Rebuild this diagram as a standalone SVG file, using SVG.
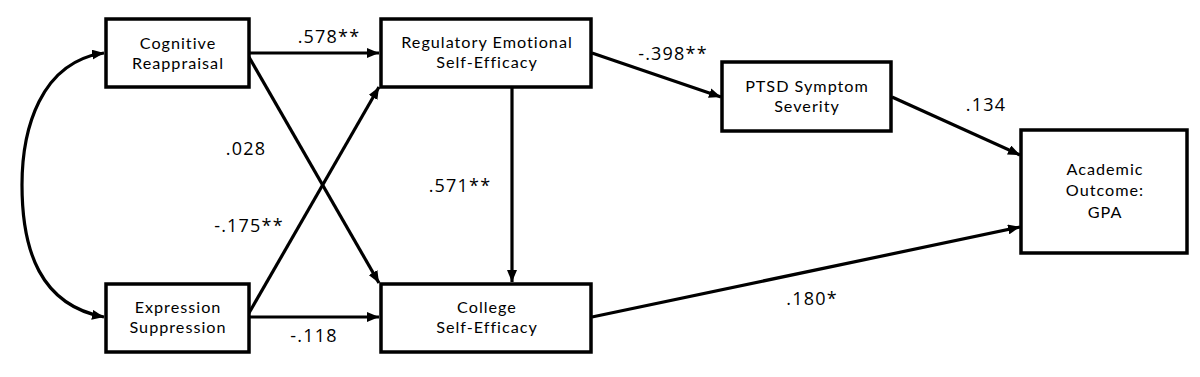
<svg xmlns="http://www.w3.org/2000/svg" width="1200" height="377" viewBox="0 0 1200 377">
<style>
.box{fill:#fff;stroke:#000;stroke-width:3.5}
.t{font-family:Lato,"Open Sans","Liberation Sans",sans-serif;font-size:16.2px;letter-spacing:1px;fill:#000;text-anchor:middle}
.lbl{font-family:"Open Sans","Liberation Sans",sans-serif;font-size:18px;letter-spacing:1.2px;fill:#000;text-anchor:middle}
.c{fill:none;stroke:#000;stroke-width:3.2}
</style>
<defs>
<marker id="ah" viewBox="0 0 12 10" refX="12" refY="5" markerWidth="12" markerHeight="10" markerUnits="userSpaceOnUse" orient="auto-start-reverse">
<path d="M0,0 L12,5 L0,10 Z" fill="#000"/>
</marker>
</defs>
<rect width="1200" height="377" fill="#fff"/>
<g id="connectors">
<path class="c" d="M249,53 L379,53" marker-end="url(#ah)"/>
<path class="c" d="M249,57 L379,283" marker-end="url(#ah)"/>
<path class="c" d="M249,313 L379,87" marker-end="url(#ah)"/>
<path class="c" d="M249,317 L379,317" marker-end="url(#ah)"/>
<path class="c" d="M512,87 L512,282" marker-end="url(#ah)"/>
<path class="c" d="M592,53 L721,97" marker-end="url(#ah)"/>
<path class="c" d="M892,97 L1020,155" marker-end="url(#ah)"/>
<path class="c" d="M592,317 L1020,227" marker-end="url(#ah)"/>
<path class="c" d="M104,53 C40,62 22,130 22,185 C22,250 40,305 104,317" marker-start="url(#ah)" marker-end="url(#ah)"/>
</g>
<g id="labels">
<text class="lbl" x="329" y="43">.578**</text>
<text class="lbl" x="246" y="155">.028</text>
<text class="lbl" x="249" y="232">-.175**</text>
<text class="lbl" x="314" y="342">-.118</text>
<text class="lbl" x="460" y="192">.571**</text>
<text class="lbl" x="673" y="60">-.398**</text>
<text class="lbl" x="986" y="111">.134</text>
<text class="lbl" x="812" y="305">.180*</text>
</g>
<g id="cognitive-reappraisal">
<rect class="box" x="106" y="19" width="143" height="68"/>
<text class="t" x="178" y="49">Cognitive</text>
<text class="t" x="178" y="69">Reappraisal</text>
</g>
<g id="expression-suppression">
<rect class="box" x="106" y="284" width="143" height="68"/>
<text class="t" x="178" y="313">Expression</text>
<text class="t" x="178" y="333">Suppression</text>
</g>
<g id="regulatory-emotional-self-efficacy">
<rect class="box" x="381" y="19" width="210" height="68"/>
<text class="t" x="487" y="48">Regulatory Emotional</text>
<text class="t" x="487" y="68">Self-Efficacy</text>
</g>
<g id="college-self-efficacy">
<rect class="box" x="381" y="284" width="210" height="68"/>
<text class="t" x="487" y="313">College</text>
<text class="t" x="487" y="333">Self-Efficacy</text>
</g>
<g id="ptsd-symptom-severity">
<rect class="box" x="722" y="62" width="169" height="69"/>
<text class="t" x="807" y="92">PTSD Symptom</text>
<text class="t" x="807" y="112">Severity</text>
</g>
<g id="academic-outcome-gpa">
<rect class="box" x="1021" y="130" width="166" height="123"/>
<text class="t" x="1105" y="175">Academic</text>
<text class="t" x="1105" y="196">Outcome:</text>
<text class="t" x="1105" y="218">GPA</text>
</g>
</svg>
